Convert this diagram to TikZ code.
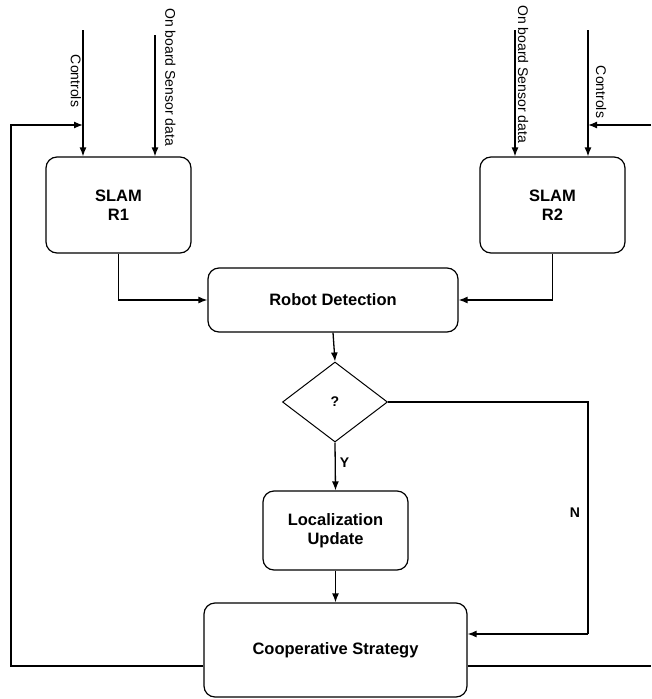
\documentclass[tikz,border=0pt]{standalone}
\usepackage{fontspec}
\setmainfont{Liberation Sans}
\usetikzlibrary{arrows.meta,shapes.geometric,calc}

\tikzset{
  box/.style={draw=black, line width=1.2pt, rounded corners=11pt, align=center,
    font=\fontsize{16.5}{19.5}\selectfont\bfseries, inner sep=0pt},
  decision/.style={draw=black, line width=1pt, shape=diamond, inner sep=0pt,
    minimum width=105pt, minimum height=80pt, font=\fontsize{14}{16}\selectfont\bfseries},
  flow/.style={line width=1.3pt, -{Latex[length=9pt,width=7pt]}},
  plain/.style={line width=1.3pt},
  loop/.style={line width=2.2pt},
  vlabel/.style={rotate=-90, font=\fontsize{14}{15}\selectfont, inner sep=0pt},
  tag/.style={font=\fontsize{14}{16}\selectfont\bfseries, inner sep=0pt}
}

\begin{document}
\begin{tikzpicture}[x=1pt, y=-1pt]
  \useasboundingbox (0,0) rectangle (651,699);

  % processing blocks
  \node[box, minimum width=145pt, minimum height=96pt] (r1) at (118.5,205) {SLAM\\R1};
  \node[box, minimum width=145pt, minimum height=96pt] (r2) at (552.5,205) {SLAM\\R2};
  \node[box, minimum width=250pt, minimum height=64pt] (rd) at (333,300) {Robot Detection};
  \node[decision] (dq) at (335,402) {?};
  \node[box, minimum width=145pt, minimum height=79pt] (lu) at (335.5,530.5) {Localization\\Update};
  \node[box, minimum width=263pt, minimum height=94pt] (cs) at (335.5,650) {Cooperative Strategy};

  % input line starts
  \coordinate (c1) at (83,30);
  \coordinate (s1) at (155,35);
  \coordinate (s2) at (515,30);
  \coordinate (c2) at (588,30);

  % inputs of both SLAM blocks
  \draw[flow] (c1) -- (c1 |- r1.north);
  \draw[flow] (s1) -- (s1 |- r1.north);
  \draw[flow] (s2) -- (s2 |- r2.north);
  \draw[flow] (c2) -- (c2 |- r2.north);

  \node[vlabel] (lc1) at (76,81) {Controls};
  \node[vlabel] (ls1) at (170.5,77) {On board Sensor data};
  \node[vlabel] (ls2) at (523,74) {On board Sensor data};
  \node[vlabel] (lc2) at (601,92) {Controls};

  % SLAM outputs into detection
  \draw[flow] (r1.south) |- (rd.west);
  \draw[flow] (r2.south) |- (rd.east);

  % detection to decision
  \draw[flow] (rd.south) -- (dq.north);

  % yes branch
  \draw[flow] (dq.south) -- (lu.north) node[tag, pos=0.42, right=4pt] (ly) {Y};
  \draw[flow] (lu.south) -- (cs.north);

  % no branch
  \coordinate (nb) at (588,634);
  \draw[plain] (dq.east) -| (nb);
  \draw[flow] (nb) -- (cs.east |- nb);
  \node[tag] (ln) at (575,513) {N};

  % feedback to the controls inputs
  \coordinate (fl) at (11,666);
  \coordinate (j1) at (83,125);
  \draw[loop] (cs.west |- fl) -- (fl) -- (fl |- j1) -- ($(j1)+(-8,0)$);
  \draw[flow] ($(j1)+(-10,0)$) -- (j1);

  \coordinate (fr) at (651,666);
  \coordinate (er) at (651,125);
  \coordinate (j2) at (588,125);
  \draw[plain] (cs.east |- fr) -- (fr);
  \draw[loop] (er) -- ($(j2)+(8,0)$);
  \draw[flow] ($(j2)+(10,0)$) -- (j2);
\end{tikzpicture}
\end{document}
